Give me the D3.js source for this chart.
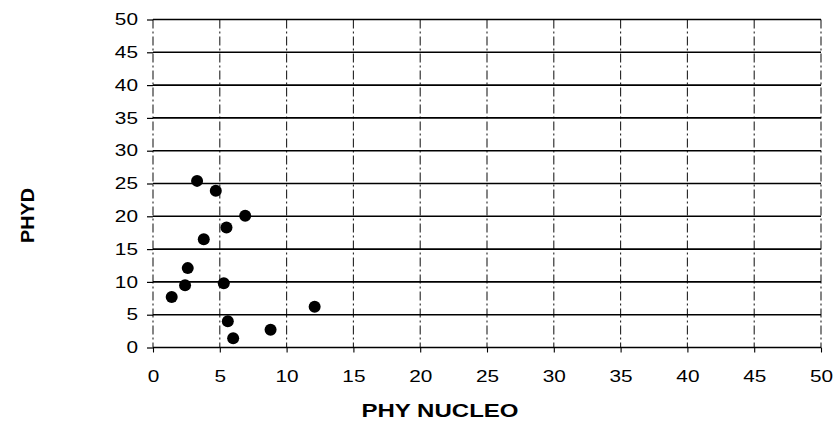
<!DOCTYPE html>
<html>
<head>
<meta charset="utf-8">
<script src="https://cdn.jsdelivr.net/npm/d3@7"></script>
<style>
  html, body { margin: 0; padding: 0; background: #fff; }
  svg { display: block; }
  text { font-family: "Liberation Sans", Arial, sans-serif; fill: #000; }
</style>
</head>
<body>
<svg id="chart" width="837" height="426"></svg>
<script>
// Data
const phyNucleo = [3.3, 4.7, 6.9, 5.5, 3.8, 2.6, 2.4, 5.3, 1.4, 12.1, 5.6, 8.8, 6.0];
const phyd      = [25.4, 23.9, 20.1, 18.3, 16.5, 12.1, 9.5, 9.8, 7.7, 6.2, 4.0, 2.7, 1.4];
const xTicks = [0, 5, 10, 15, 20, 25, 30, 35, 40, 45, 50];
const yTicks = [0, 5, 10, 15, 20, 25, 30, 35, 40, 45, 50];
const xTitle = "PHY NUCLEO";
const yTitle = "PHYD";

const svg = d3.select("#chart");
const plotLeft = 153, plotRight = 821, plotTop = 19.5, plotBottom = 347.5;
const stretch = 1.3;

const x = d3.scaleLinear().domain([0, 50]).range([plotLeft, plotRight]);
const y = d3.scaleLinear().domain([0, 50]).range([plotBottom, plotTop]);

// vertical dashed grid lines
svg.append("g").selectAll("line").data(xTicks).join("line")
  .attr("x1", d => x(d)).attr("x2", d => x(d))
  .attr("y1", plotTop).attr("y2", plotBottom)
  .attr("stroke", "#222").attr("stroke-width", 1.1)
  .attr("stroke-dasharray", "9,3,2,3");

// horizontal solid grid lines
svg.append("g").selectAll("line").data(yTicks).join("line")
  .attr("x1", plotLeft).attr("x2", plotRight)
  .attr("y1", d => y(d)).attr("y2", d => y(d))
  .attr("stroke", "#000").attr("stroke-width", 1.6);

// y axis
const yAxis = svg.append("g").attr("transform", `translate(${plotLeft},0)`)
  .call(d3.axisLeft(y).tickValues(yTicks).tickSize(6).tickPadding(9));
yAxis.select(".domain").remove();
yAxis.selectAll(".tick line").attr("stroke", "#000").attr("stroke-width", 1.2);
yAxis.selectAll(".tick text")
  .attr("font-size", 16)
  .attr("x", -15 / stretch)
  .attr("transform", `scale(${stretch},1)`)
  .style("font-family", '"Liberation Sans", Arial, sans-serif');

// x axis
const xAxis = svg.append("g").attr("transform", `translate(0,${plotBottom})`)
  .call(d3.axisBottom(x).tickValues(xTicks).tickSize(5).tickPadding(0));
xAxis.select(".domain").remove();
xAxis.selectAll(".tick line").attr("stroke", "#000").attr("stroke-width", 1.1);
xAxis.selectAll(".tick text")
  .attr("font-size", 16)
  .attr("y", 34.5).attr("dy", 0)
  .attr("transform", `scale(${stretch},1)`)
  .style("font-family", '"Liberation Sans", Arial, sans-serif');

// points
svg.append("g").selectAll("circle").data(phyNucleo.map((v, i) => [v, phyd[i]])).join("circle")
  .attr("cx", d => x(d[0])).attr("cy", d => y(d[1]))
  .attr("r", 6).attr("fill", "#000");

// axis titles
svg.append("text")
  .attr("x", 440).attr("y", 417)
  .attr("text-anchor", "middle")
  .attr("font-size", 18).attr("font-weight", "bold")
  .attr("textLength", 157).attr("lengthAdjust", "spacingAndGlyphs")
  .text(xTitle);

svg.append("text")
  .attr("transform", "translate(34,215.5) rotate(-90)")
  .attr("text-anchor", "middle")
  .attr("font-size", 19).attr("font-weight", "bold")
  .attr("textLength", 55).attr("lengthAdjust", "spacingAndGlyphs")
  .text(yTitle);
</script>
</body>
</html>
